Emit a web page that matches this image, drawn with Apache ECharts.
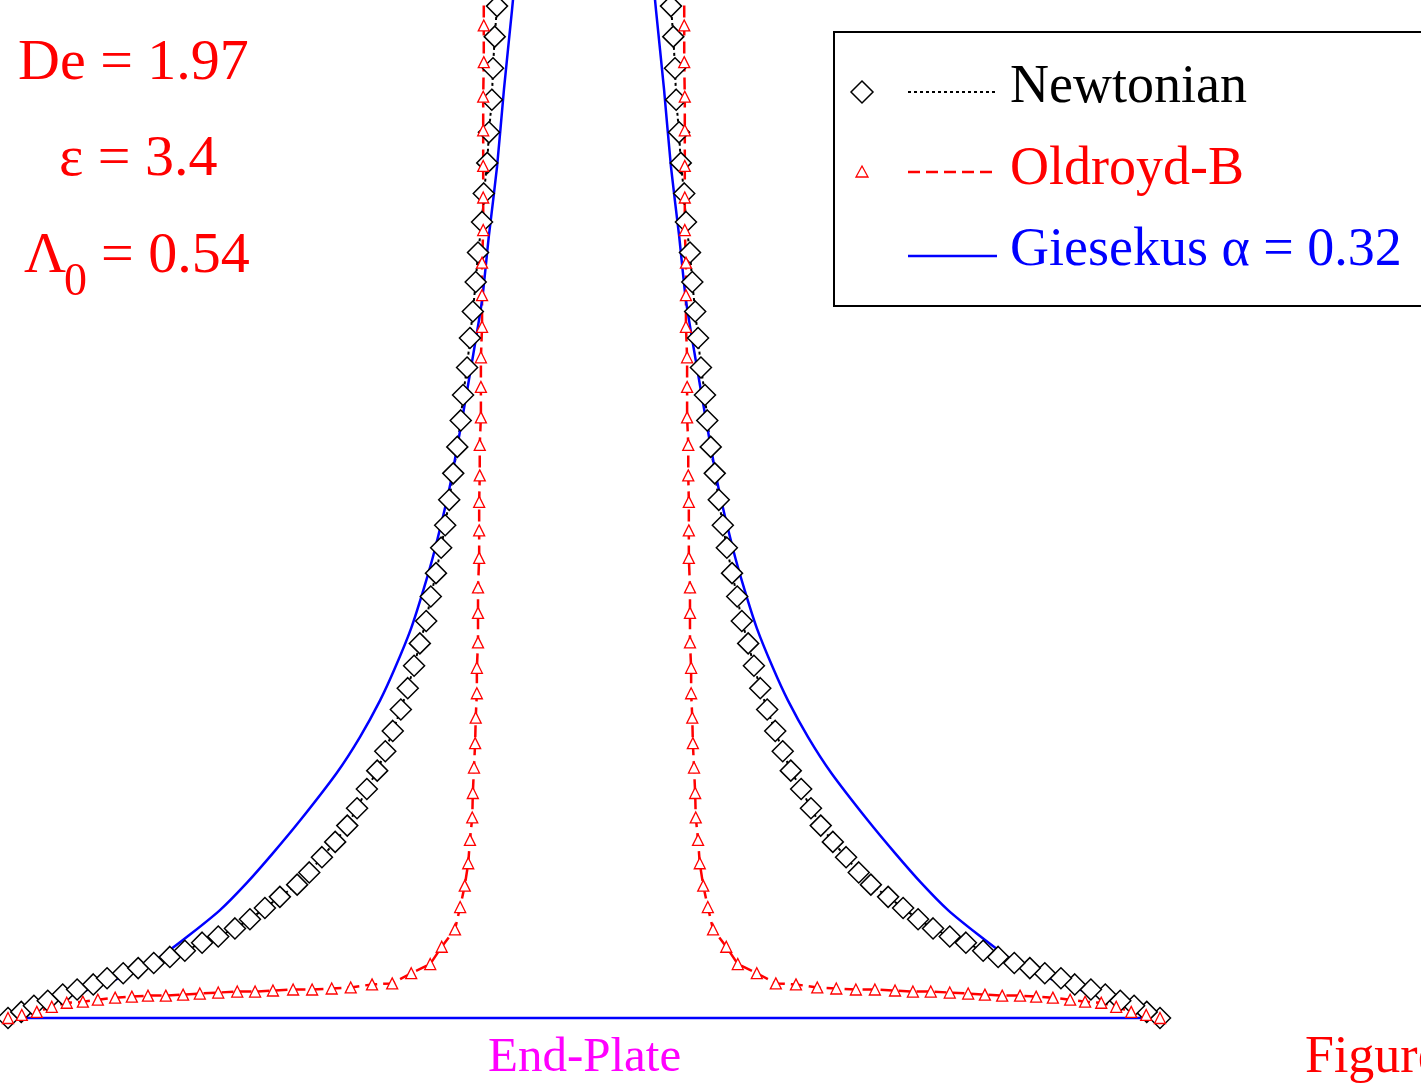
<!DOCTYPE html>
<html>
<head>
<meta charset="utf-8">
<script src="https://cdn.jsdelivr.net/npm/echarts@6/dist/echarts.min.js"></script>
<style>
  html, body { margin: 0; padding: 0; background: #fff; }
  #chart { width: 1421px; height: 1083px; }
</style>
</head>
<body>
<div id="chart"></div>
<script>
// Filament radius r (normalised by plate radius) against height z (normalised), one side; mirrored for the other side.
const newtonianR = [1.000,0.977,0.955,0.931,0.905,0.880,0.852,0.828,0.800,0.774,0.747,0.719,0.693,0.663,0.635,0.606,0.580,0.554,0.528,0.498,0.477,0.455,0.432,0.411,0.394,0.377,0.359,0.345,0.332,0.318,0.306,0.295,0.285,0.274,0.266,0.257,0.248,0.241,0.234,0.227,0.220,0.214,0.210,0.203,0.198,0.193,0.188,0.184,0.177,0.174,0.168,0.165,0.160,0.158,0.155,0.151,0.148];
const newtonianZ = [0.000,0.006,0.012,0.017,0.023,0.028,0.033,0.039,0.044,0.049,0.054,0.060,0.066,0.074,0.080,0.088,0.097,0.108,0.119,0.131,0.143,0.158,0.173,0.189,0.206,0.225,0.243,0.262,0.282,0.303,0.324,0.346,0.368,0.390,0.414,0.437,0.462,0.484,0.509,0.535,0.561,0.587,0.612,0.639,0.668,0.694,0.723,0.752,0.782,0.810,0.840,0.870,0.902,0.933,0.964,0.994,1.025];

const oldroydR = [1.000,0.976,0.950,0.924,0.898,0.870,0.844,0.814,0.785,0.757,0.726,0.696,0.667,0.635,0.602,0.571,0.540,0.505,0.472,0.438,0.405,0.368,0.333,0.300,0.267,0.247,0.224,0.215,0.207,0.201,0.198,0.194,0.193,0.191,0.189,0.188,0.186,0.186,0.184,0.184,0.184,0.182,0.182,0.182,0.181,0.181,0.179,0.179,0.179,0.177,0.177,0.177,0.175,0.175,0.175,0.175,0.175,0.174,0.174,0.174];
const oldroydZ = [0.000,0.003,0.006,0.011,0.015,0.016,0.018,0.020,0.021,0.022,0.022,0.023,0.024,0.025,0.026,0.026,0.027,0.028,0.028,0.029,0.030,0.033,0.034,0.044,0.053,0.070,0.087,0.109,0.130,0.152,0.175,0.197,0.221,0.246,0.270,0.295,0.319,0.344,0.369,0.398,0.423,0.452,0.479,0.507,0.533,0.563,0.590,0.620,0.649,0.679,0.710,0.742,0.774,0.806,0.837,0.872,0.905,0.939,0.975,1.008];

const giesekusR = [1.000,0.957,0.927,0.840,0.783,0.736,0.684,0.632,0.585,0.540,0.493,0.429,0.389,0.354,0.328,0.300,0.278,0.259,0.233,0.212,0.194,0.177,0.165,0.151,0.139,0.125,0.120];
const giesekusZ = [0.000,0.010,0.015,0.032,0.045,0.060,0.082,0.106,0.133,0.162,0.194,0.241,0.276,0.312,0.344,0.383,0.422,0.460,0.522,0.587,0.646,0.705,0.769,0.836,0.912,0.990,1.020];

const plateX = [-1, 1];
const plateZ = [0, 0];

const seriesNames = ['Newtonian', 'Oldroyd-B', 'Giesekus \u03b1 = 0.32'];
const annotations = ['De = 1.97', '\u03b5 = 3.4', '\u039b', '0', '= 0.54'];

function side(R, Z, sign) { return R.map((r, i) => [sign * r, Z[i]]); }

const serif = 'Liberation Serif, Times New Roman, serif';

const newtStyle = {
  type: 'line', symbol: 'diamond', symbolSize: 21, clip: false, silent: true,
  lineStyle: { color: '#000', width: 2, type: [3, 3] },
  itemStyle: { color: '#fff', borderColor: '#000', borderWidth: 1.5 }
};
const oldStyle = {
  type: 'line', symbol: 'triangle', symbolSize: 11, clip: false, silent: true,
  lineStyle: { color: '#ff0000', width: 2.5, type: [12, 6] },
  itemStyle: { color: '#fff', borderColor: '#ff0000', borderWidth: 1.3 }
};
const giesStyle = {
  type: 'line', showSymbol: false, symbol: 'none', clip: false, silent: true, smooth: 0.2,
  lineStyle: { color: '#0000ff', width: 2.5 }
};

const chart = echarts.init(document.getElementById('chart'), null, { renderer: 'canvas' });
chart.setOption({
  animation: false,
  backgroundColor: '#fff',
  grid: { left: 8, top: 0, width: 1152, height: 1018 },
  xAxis: { type: 'value', min: -1, max: 1, show: false },
  yAxis: { type: 'value', min: 0, max: 1, show: false },
  series: [
    Object.assign({ name: seriesNames[0], data: side(newtonianR, newtonianZ, -1) }, newtStyle),
    Object.assign({ name: seriesNames[0] + ' r', data: side(newtonianR, newtonianZ, 1) }, newtStyle),
    Object.assign({ name: seriesNames[1], data: side(oldroydR, oldroydZ, -1) }, oldStyle),
    Object.assign({ name: seriesNames[1] + ' r', data: side(oldroydR, oldroydZ, 1) }, oldStyle),
    Object.assign({ name: seriesNames[2], data: side(giesekusR, giesekusZ, -1) }, giesStyle),
    Object.assign({ name: seriesNames[2] + ' r', data: side(giesekusR, giesekusZ, 1) }, giesStyle),
    { type: 'line', name: 'plate', symbol: 'none', clip: false, silent: true,
      data: plateX.map((x, i) => [x, plateZ[i]]),
      lineStyle: { color: '#0000ff', width: 2.5 } }
  ],
  graphic: [
    { type: 'text', x: 18, y: 64, style: { text: annotations[0], fill: '#ff0000', font: '58px ' + serif, verticalAlign: 'middle' }, z: 10 },
    { type: 'text', x: 59, y: 160, style: { text: annotations[1], fill: '#ff0000', font: '58px ' + serif, verticalAlign: 'middle' }, z: 10 },
    { type: 'text', x: 24, y: 257, style: { text: annotations[2], fill: '#ff0000', font: '58px ' + serif, verticalAlign: 'middle' }, z: 10 },
    { type: 'text', x: 64, y: 283, style: { text: annotations[3], fill: '#ff0000', font: '46px ' + serif, verticalAlign: 'middle' }, z: 10 },
    { type: 'text', x: 101, y: 257, style: { text: annotations[4], fill: '#ff0000', font: '58px ' + serif, verticalAlign: 'middle' }, z: 10 },
    // legend box
    { type: 'rect', shape: { x: 834, y: 32, width: 620, height: 274 }, style: { fill: '#fff', stroke: '#000', lineWidth: 2 }, z: 5 },
    { type: 'polygon', shape: { points: [[862, 81], [873, 92], [862, 103], [851, 92]] }, style: { fill: '#fff', stroke: '#000', lineWidth: 1.5 }, z: 6 },
    { type: 'line', shape: { x1: 908, y1: 92, x2: 997, y2: 92 }, style: { stroke: '#000', lineWidth: 2, lineDash: [3, 3] }, z: 6 },
    { type: 'text', x: 1010, y: 88, style: { text: seriesNames[0], fill: '#000', font: '54px ' + serif, verticalAlign: 'middle' }, z: 6 },
    { type: 'polygon', shape: { points: [[862, 166], [868, 177], [856, 177]] }, style: { fill: '#fff', stroke: '#ff0000', lineWidth: 1.3 }, z: 6 },
    { type: 'line', shape: { x1: 908, y1: 172, x2: 997, y2: 172 }, style: { stroke: '#ff0000', lineWidth: 2.5, lineDash: [12, 6] }, z: 6 },
    { type: 'text', x: 1010, y: 170, style: { text: seriesNames[1], fill: '#ff0000', font: '54px ' + serif, verticalAlign: 'middle' }, z: 6 },
    { type: 'line', shape: { x1: 908, y1: 256, x2: 997, y2: 256 }, style: { stroke: '#0000ff', lineWidth: 2.5 }, z: 6 },
    { type: 'text', x: 1010, y: 251, style: { text: seriesNames[2], fill: '#0000ff', font: '54px ' + serif, verticalAlign: 'middle' }, z: 6 },
    // bottom labels
    { type: 'text', x: 488, y: 1058, style: { text: 'End-Plate', fill: '#ff00ff', font: '49px ' + serif, verticalAlign: 'middle' }, z: 6 },
    { type: 'text', x: 1305, y: 1058, style: { text: 'Figure', fill: '#ff0000', font: '52px ' + serif, verticalAlign: 'middle' }, z: 6 }
  ]
});
</script>
</body>
</html>
